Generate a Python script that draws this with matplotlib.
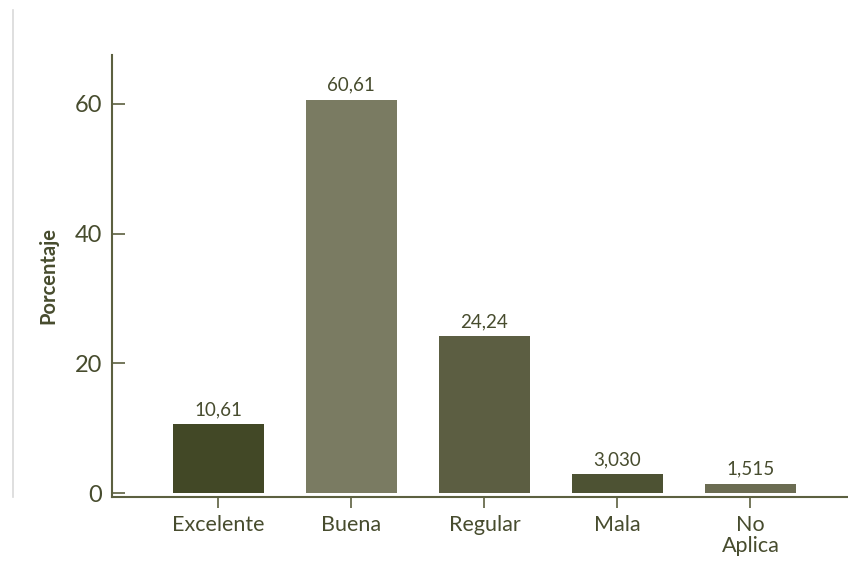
import matplotlib.pyplot as plt
from matplotlib.lines import Line2D

categorias = ['Excelente', 'Buena', 'Regular', 'Mala', 'No\nAplica']
porcentajes = [10.61, 60.61, 24.24, 3.030, 1.515]
etiquetas = ['10,61', '60,61', '24,24', '3,030', '1,515']
colores = ['#424826', '#7a7b62', '#5c5e42', '#4d5233', '#6b6c52']

texto = '#474c2e'
eje = '#5c6040'

plt.rcParams['font.family'] = ['Lato', 'DejaVu Sans']

fig = plt.figure(figsize=(8.48, 5.62), dpi=100)
ax = fig.add_axes([0.132, 0.1157, 0.9, 0.7865])

x = range(len(categorias))
bars = ax.bar(x, porcentajes, width=0.685, color=colores)

for b, lab in zip(bars, etiquetas):
    ax.text(b.get_x() + b.get_width() / 2, b.get_height() + 0.9, lab,
            ha='center', va='bottom', fontsize=13.5, color=texto)

ax.set_xlim(-0.8, 4.937)
ax.set_ylim(-0.55, 67.5)
ax.set_yticks([0, 20, 40, 60])
ax.set_xticks(list(x))
ax.set_xticklabels(categorias, fontsize=15.5, color=texto, linespacing=1.05)
ax.tick_params(axis='y', direction='in', length=9, width=1.2, colors=eje,
               labelsize=17, labelcolor=texto, pad=7)
ax.tick_params(axis='x', direction='out', length=8, width=1.2, colors=eje,
               labelcolor=texto, pad=5)

for s in ['top', 'right']:
    ax.spines[s].set_visible(False)
for s in ['left', 'bottom']:
    ax.spines[s].set_color(eje)
    ax.spines[s].set_linewidth(1.5)

ax.set_ylabel('Porcentaje', fontsize=14.5, fontweight='bold', color=texto)
ax.yaxis.set_label_coords(-0.07, 0.5)

# linea gris de borde a la izquierda
fig.add_artist(Line2D([12.5 / 848, 12.5 / 848], [1 - 10 / 562, 1 - 497 / 562],
                      color='#d9d9d9', linewidth=1.2))

fig.savefig('out.png', dpi=100)
